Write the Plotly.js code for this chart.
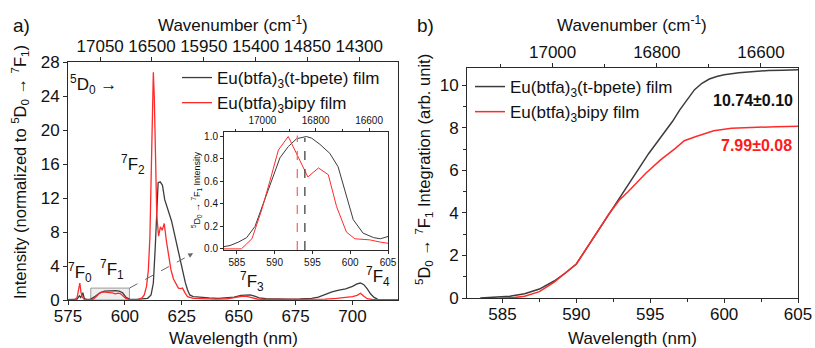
<!DOCTYPE html>
<html><head><meta charset="utf-8">
<script src="https://cdn.plot.ly/plotly-3.0.1.min.js"></script>
<style>html,body{margin:0;padding:0;background:#fff}#chart{width:815px;height:348px}</style>
</head><body><div id="chart"></div>
<script>
// ---- Panel a: emission spectra (normalized to 5D0 -> 7F1) ----
const wlTbpete = [575,577,579,580,580.6,581.5,582.2,583.5,585,587,589,591,593,594.5,596,597.5,599,600.5,602,605,608,610,611.5,612.5,613.3,614,614.6,615.5,616.5,617.5,618.5,619.5,620.5,621.5,622.5,623.5,624.5,625.5,626.5,627.5,628.5,630,633,637,641,645,648,651,653,655,657,659,662,667,672,677,682,685,688,691,694,697,700,702,703.5,705,706.5,708,709.5,711];
const intTbpete = [0.05,0.05,0.1,0.5,0.3,0.85,0.15,0.05,0.1,0.45,0.85,1.05,1.1,1.15,1.1,1.05,0.85,0.3,0.1,0.08,0.1,0.2,0.6,2.0,6.0,10.5,13.8,13.9,13.5,11.8,11.0,10.2,9.3,8.1,6.9,5.5,4.3,3.2,2.1,1.2,0.6,0.4,0.3,0.25,0.2,0.25,0.35,0.55,0.6,0.6,0.45,0.25,0.15,0.1,0.1,0.12,0.2,0.35,0.65,0.95,1.15,1.3,1.6,1.9,2.0,1.8,1.3,0.7,0.3,0.1];
const wlBipy = [575,578,579,579.7,580.2,580.7,581.3,582,584,585.5,587,588.5,590,591.5,593,594.5,595.7,597,598,599.3,600.5,602,606,607.5,608.5,609.5,610.3,611,611.6,612.1,612.5,612.9,613.4,614,614.8,615.6,616.4,617.3,618.2,619.2,620.2,621.3,622.5,623.5,624.5,625.3,626.3,627.5,630,635,640,645,649,652,654,656,658,662,670,680,688,693,697,700,702,703.5,705,706.5,709,715,720];
const intBipy = [0.02,0.05,0.3,1.5,2.0,0.9,0.35,0.1,0.02,0.0,0.3,0.7,0.95,0.9,0.85,0.85,0.72,0.8,0.75,0.4,0.15,0.05,0.05,0.25,0.6,1.6,3.5,7.5,14,22,26.8,24,17,10,7.5,8.6,8.2,9.0,7.0,5.0,3.6,2.5,1.8,1.4,1.35,1.4,0.9,0.4,0.2,0.12,0.1,0.15,0.3,0.45,0.4,0.25,0.12,0.06,0.05,0.05,0.1,0.2,0.3,0.4,0.55,0.8,0.45,0.15,0.05,0.03,0.03];

// ---- Inset: normalized 5D0 -> 7F1 band ----
const wlInsetT = [583.3,584.1,585.2,586.3,587.4,588.5,589.6,590.7,591.8,592.9,594.2,594.9,596.0,597.3,598.4,599.3,600.4,601.7,603.1,604,605];
const insetT = [0.02,0.03,0.06,0.10,0.2,0.4,0.61,0.81,0.91,0.98,1.0,0.985,0.93,0.85,0.73,0.52,0.26,0.14,0.1,0.09,0.11];
const wlInsetB = [583.3,584.1,585.6,587.0,588.3,589.4,590.5,591.8,593.1,594.4,595.8,597.1,598.2,599.5,600.6,602.6,604,605];
const insetB = [0.0,0.0,0.0,0.09,0.35,0.61,0.88,1.0,0.82,0.64,0.72,0.66,0.375,0.15,0.09,0.08,0.06,0.05];
const centroidBipy = 593.0, centroidTbpete = 594.0;

// ---- Panel b: cumulative integration ----
const wlIntT = [583.5,584.5,585.5,586.5,587.5,588.5,589.3,590,590.8,591.5,592.2,592.9,593.9,594.9,595.7,596.5,597,597.5,598,598.5,599,599.5,600,601,602,603,604,605];
const integT = [0,0.03,0.08,0.2,0.42,0.8,1.2,1.6,2.45,3.2,3.95,4.7,5.75,6.8,7.55,8.3,8.85,9.35,9.8,10.1,10.3,10.42,10.5,10.6,10.66,10.7,10.72,10.74];
const wlIntB = [584.8,585.8,586.5,587.5,588.5,589.3,590,590.8,591.5,592.2,592.9,593.5,594.7,595.7,596.7,597.3,598.1,599.3,600.5,602,603.5,605];
const integB = [0,0.02,0.08,0.3,0.75,1.2,1.6,2.45,3.2,3.95,4.6,5.0,5.87,6.5,7.04,7.4,7.6,7.87,7.98,8.03,8.06,8.08];
const totalT = '10.74±0.10', totalB = '7.99±0.08';

const names = ['Eu(btfa)<sub>3</sub>(t-bpete) film', 'Eu(btfa)<sub>3</sub>bipy film'];
const BLK = '#3c3c3c', RED = '#ff2a2a';
const toWavenumber = arr => arr.map(l => 1e7 / l);

const W = 815, H = 348;
const px = v => v / W, py = v => 1 - v / H;

const AX = {showline:true, linecolor:'#2a2a2a', linewidth:1, showgrid:false, zeroline:false,
  ticks:'outside', ticklen:4, tickcolor:'#2a2a2a', tickfont:{size:17, color:'#111'}};
const AXS = {showline:true, linecolor:'#2a2a2a', linewidth:1, showgrid:false, zeroline:false,
  ticks:'outside', ticklen:3, tickcolor:'#2a2a2a', tickfont:{size:10, color:'#111'}};
const ghost = {mode:'lines', opacity:0, line:{width:0}, showlegend:false, hoverinfo:'skip'};

const traces = [
  {x: wlTbpete, y: intTbpete, xaxis:'x', yaxis:'y', mode:'lines', name: names[0], line:{color:BLK, width:1.3}, legend:'legend'},
  {x: wlBipy, y: intBipy, xaxis:'x', yaxis:'y', mode:'lines', name: names[1], line:{color:RED, width:1.3}, legend:'legend'},
  Object.assign({x: toWavenumber(wlTbpete), y: intTbpete, xaxis:'x2', yaxis:'y'}, ghost),
  {x: wlInsetT, y: insetT, xaxis:'x5', yaxis:'y5', mode:'lines', showlegend:false, line:{color:BLK, width:1}},
  {x: wlInsetB, y: insetB, xaxis:'x5', yaxis:'y5', mode:'lines', showlegend:false, line:{color:RED, width:1}},
  Object.assign({x: toWavenumber(wlInsetT), y: insetT, xaxis:'x6', yaxis:'y5'}, ghost),
  {x: wlIntT, y: integT, xaxis:'x3', yaxis:'y3', mode:'lines', name: names[0], line:{color:BLK, width:1.5}, legend:'legend2'},
  {x: wlIntB, y: integB, xaxis:'x3', yaxis:'y3', mode:'lines', name: names[1], line:{color:RED, width:1.5}, legend:'legend2'},
  Object.assign({x: toWavenumber(wlIntT), y: integT, xaxis:'x4', yaxis:'y3'}, ghost)
];

const T = (text, x, y, size, extra) => Object.assign({text, x, y, xref:'paper', yref:'paper', showarrow:false,
  font:{size, color:'#111'}, xanchor:'center', yanchor:'middle'}, extra || {});

const annotations = [
  T('a)', px(21), py(25), 19),
  T('b)', px(425), py(25), 19),
  T('Wavenumber (cm<sup>-1</sup>)', px(233), py(24), 17),
  T('Wavenumber (cm<sup>-1</sup>)', px(632), py(24), 17),
  T('Wavelength (nm)', px(233), py(338), 17),
  T('Wavelength (nm)', px(632), py(338), 17),
  T('Intensity (normalized to <sup>5</sup>D<sub>0</sub> → <sup>7</sup>F<sub>1</sub>)', px(20), py(172), 16.5, {textangle:-90}),
  T('<sup>5</sup>D<sub>0</sub> → <sup>7</sup>F<sub>1</sub> Integration (arb. unit)', px(424), py(170), 16.5, {textangle:-90}),
  T('<sup>5</sup>D<sub>0</sub> → <sup>7</sup>F<sub>1</sub> Intensity', px(196), py(190), 9, {textangle:-90}),
  {text:'<sup>5</sup>D<sub>0</sub> →', x:586.4, y:25.3, xref:'x', yref:'y', showarrow:false, font:{size:17,color:'#111'}},
  {text:'<sup>7</sup>F<sub>0</sub>', x:580.3, y:3.2, xref:'x', yref:'y', showarrow:false, font:{size:17,color:'#111'}},
  {text:'<sup>7</sup>F<sub>1</sub>', x:594.3, y:3.6, xref:'x', yref:'y', showarrow:false, font:{size:17,color:'#111'}},
  {text:'<sup>7</sup>F<sub>2</sub>', x:603.6, y:16.0, xref:'x', yref:'y', showarrow:false, font:{size:17,color:'#111'}},
  {text:'<sup>7</sup>F<sub>3</sub>', x:655.8, y:2.2, xref:'x', yref:'y', showarrow:false, font:{size:17,color:'#111'}},
  {text:'<sup>7</sup>F<sub>4</sub>', x:711.2, y:2.8, xref:'x', yref:'y', showarrow:false, font:{size:17,color:'#111'}},
  {text:'', x:630, y:5.5, ax:628.3, ay:5.25, xref:'x', yref:'y', axref:'x', ayref:'y', showarrow:true,
    arrowhead:2, arrowsize:1, arrowwidth:1, arrowcolor:'#666'},
  T('<b>' + totalT + '</b>', px(795), py(100), 16, {xanchor:'right'}),
  T('<b>' + totalB + '</b>', px(794), py(145), 16, {xanchor:'right', font:{size:16, color:'#ff1a1a'}})
];

const shapes = [
  {type:'rect', xref:'x', yref:'y', x0:585, x1:602, y0:0, y1:1.4, layer:'below',
    fillcolor:'rgba(200,200,200,0.3)', line:{color:'#999', width:1}},
  {type:'line', xref:'x', yref:'y', x0:602, y0:1.4, x1:629, y1:5.35, line:{color:'#666', width:1, dash:'dash'}},
  {type:'line', xref:'x5', yref:'y5 domain', x0:centroidBipy, x1:centroidBipy, y0:0, y1:0.97, line:{color:'#ff6a6a', width:1.3, dash:'dash'}},
  {type:'line', xref:'x5', yref:'y5 domain', x0:centroidTbpete, x1:centroidTbpete, y0:0, y1:0.95, line:{color:'#444', width:1.3, dash:'dash'}}
];

const layout = {
  width: W, height: H, margin:{l:0, r:0, t:0, b:0},
  paper_bgcolor:'#fff', plot_bgcolor:'#fff', separators:'.',
  font:{family:'"Liberation Sans", Arial, sans-serif', color:'#111'},
  xaxis: Object.assign({}, AX, {domain:[px(68), px(398)], range:[575,720], anchor:'y', mirror:true, tick0:575, dtick:25, ticklabelstandoff:-3}),
  yaxis: Object.assign({}, AX, {domain:[py(300), py(62)], range:[0,28], anchor:'x', mirror:true, tick0:0, dtick:4}),
  xaxis2: Object.assign({}, AX, {overlaying:'x', side:'top', anchor:'y', range:[1e7/575, 1e7/720], tick0:17050, dtick:550, tickformat:'d', ticklabelstandoff:-2}),
  xaxis3: Object.assign({}, AX, {domain:[px(467), px(798)], range:[582.6,605], anchor:'y3', mirror:true, tick0:585, dtick:5, ticklabelstandoff:-3,
    minor:{dtick:2.5, ticklen:3, ticks:'outside', tickcolor:'#2a2a2a'}}),
  yaxis3: Object.assign({}, AX, {domain:[py(298), py(68)], range:[0,10.82], anchor:'x3', mirror:true, tick0:0, dtick:2,
    minor:{dtick:1, ticklen:3, ticks:'outside', tickcolor:'#2a2a2a'}}),
  xaxis4: Object.assign({}, AX, {overlaying:'x3', side:'top', anchor:'y3', range:[1e7/582.6, 1e7/605], tick0:17000, dtick:200, tickformat:'d', ticklabelstandoff:-2,
    minor:{dtick:100, ticklen:3, ticks:'outside', tickcolor:'#2a2a2a'}}),
  xaxis5: Object.assign({}, AXS, {domain:[px(224), px(388)], range:[583.3,605], anchor:'y5', mirror:true, tick0:585, dtick:5}),
  yaxis5: Object.assign({}, AXS, {domain:[py(250), py(132)], range:[-0.01,1.04], anchor:'x5', mirror:true, tick0:0, dtick:0.2, tickformat:'.1f'}),
  xaxis6: Object.assign({}, AXS, {overlaying:'x5', side:'top', anchor:'y5', range:[1e7/583.3, 1e7/605], tick0:17000, dtick:200, tickformat:'d',
    minor:{dtick:100, ticklen:2, ticks:'outside', tickcolor:'#2a2a2a'}}),
  legend: {x:px(177), y:py(60), xanchor:'left', yanchor:'top', bgcolor:'rgba(0,0,0,0)', font:{size:17, color:'#111'}, tracegroupgap:0},
  legend2: {x:px(470), y:py(69), xanchor:'left', yanchor:'top', bgcolor:'rgba(0,0,0,0)', font:{size:17, color:'#111'}, tracegroupgap:0},
  annotations, shapes
};

Plotly.newPlot('chart', traces, layout, {staticPlot:true, displayModeBar:false});
</script></body></html>
